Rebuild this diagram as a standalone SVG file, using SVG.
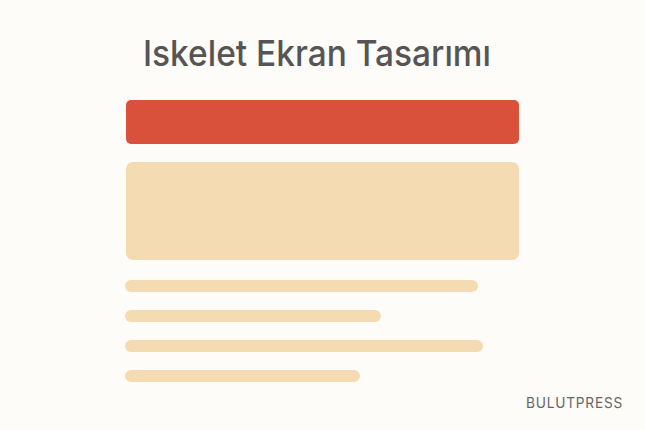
<svg xmlns="http://www.w3.org/2000/svg" width="645" height="430" viewBox="0 0 645 430">
<style>
.title{font-family:Inter,"Liberation Sans",sans-serif;font-size:36px;font-weight:500;fill:#555555;}
.brand{font-family:Inter,"Liberation Sans",sans-serif;font-size:14px;fill:#666666;letter-spacing:0.8px;}
.line{fill:#F4DBB2;}
</style>
<rect x="0" y="0" width="645" height="430" fill="#FDFCF9"/>
<g id="title"><text class="title" x="143" y="66" textLength="348" lengthAdjust="spacingAndGlyphs">Iskelet Ekran Tasarımı</text></g>
<g id="header"><rect x="126" y="100" width="393" height="44" rx="5" fill="#D9513A"/></g>
<g id="image"><rect x="126" y="162" width="393" height="98" rx="7" fill="#F4DBB2"/></g>
<g id="line1"><rect class="line" x="125" y="280" width="353" height="12" rx="6"/></g>
<g id="line2"><rect class="line" x="125" y="310" width="256" height="12" rx="6"/></g>
<g id="line3"><rect class="line" x="125" y="340" width="358" height="12" rx="6"/></g>
<g id="line4"><rect class="line" x="125" y="370" width="235" height="12" rx="6"/></g>
<g id="brand"><text class="brand" x="526" y="408" textLength="97" lengthAdjust="spacingAndGlyphs">BULUTPRESS</text></g>
</svg>
